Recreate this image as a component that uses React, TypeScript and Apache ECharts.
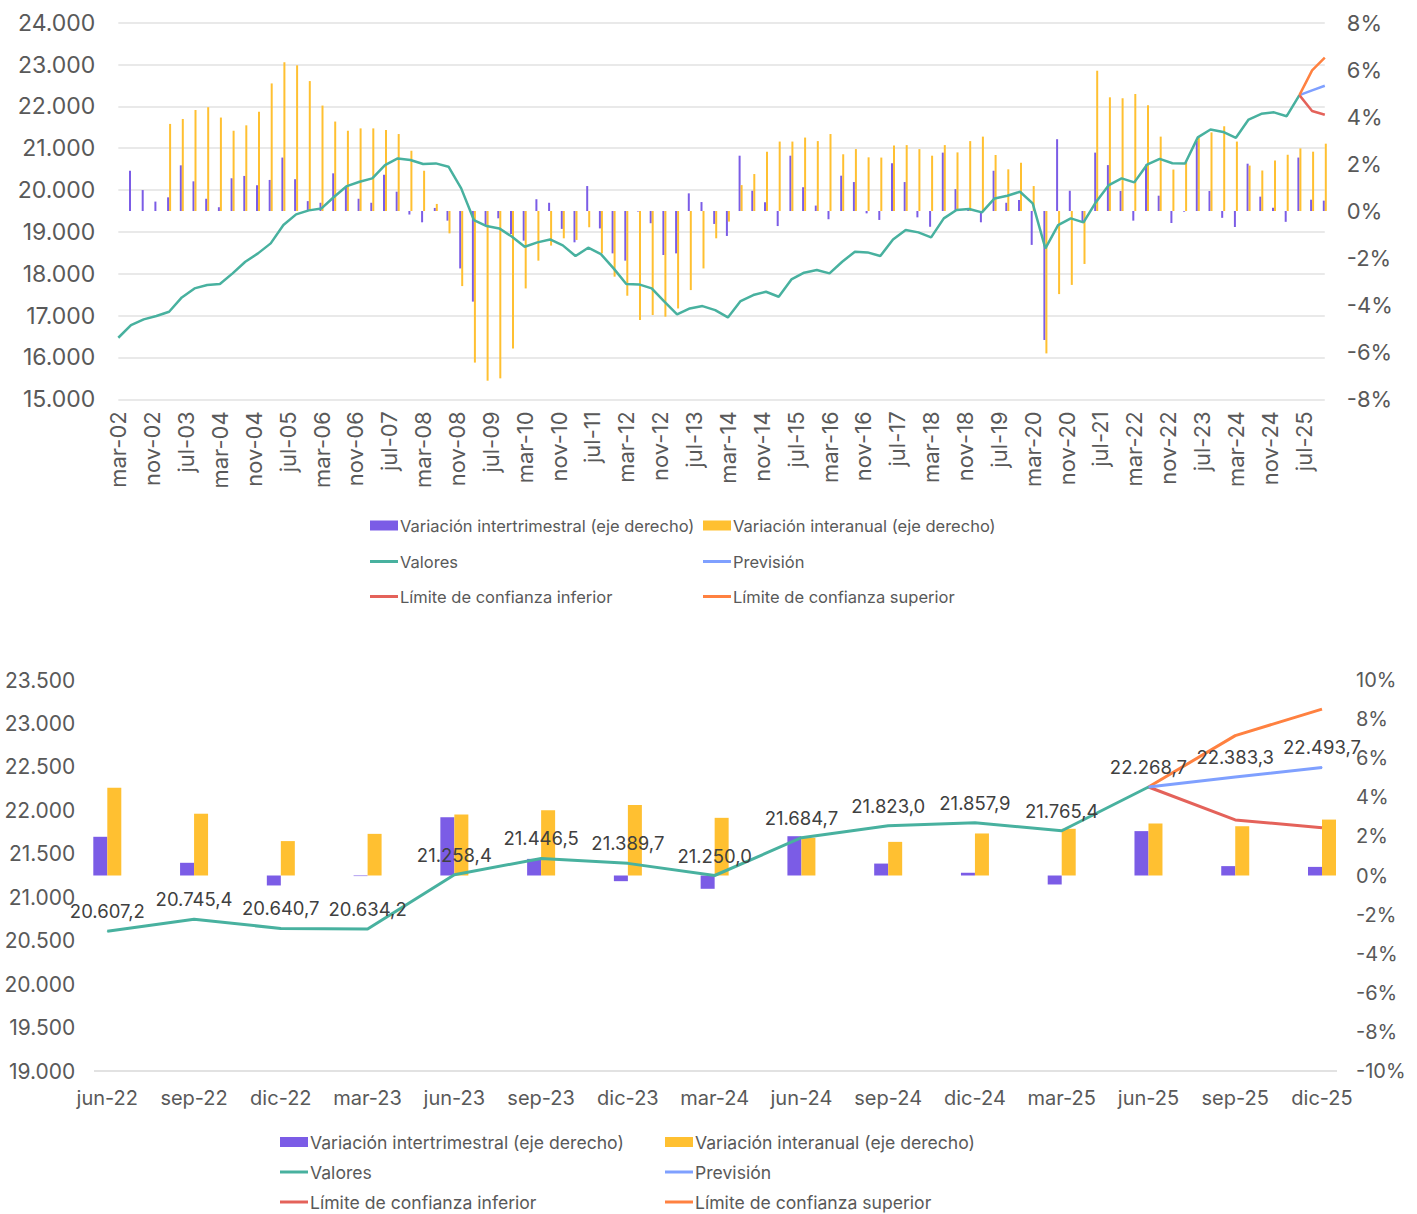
import { useEffect, useRef } from 'react';
import * as echarts from 'echarts';

// ---------- labels ----------
const MONTH_NAMES = ['ene', 'feb', 'mar', 'abr', 'may', 'jun', 'jul', 'ago', 'sep', 'oct', 'nov', 'dic'];
const START_YEAR = 2002;
const START_MONTH = 2; // mar
const N_MONTHS = 286; // mar-02 .. dic-25

// ---------- quarterly data (index 0 = mar-02, 95 = dic-25) ----------
const valores = [
  16471, 16774, 16910, 16990, 17093, 17435, 17650, 17730, 17754, 18009,
  18288, 18487, 18726, 19164, 19419, 19515, 19562, 19841, 20096, 20200,
  20279, 20598, 20757, 20718, 20622, 20638, 20558, 20040, 19284, 19140,
  19084, 18885, 18646, 18750, 18821, 18678, 18423, 18622, 18471, 18128,
  17754, 17746, 17650, 17332, 17029, 17172, 17228, 17132, 16957, 17348,
  17491, 17571, 17451, 17865, 18025, 18088, 18009, 18288, 18527, 18511,
  18423, 18821, 19045, 18989, 18869, 19323, 19523, 19547, 19467, 19801,
  19865, 19961, 19682, 18606, 19164, 19323, 19228, 19722, 20120, 20279,
  20184, 20607.2, 20745.4, 20640.7, 20634.2, 21258.4, 21446.5, 21389.7, 21250.0, 21684.7,
  21823.0, 21857.9, 21765.4, 22268.7,
];

const interTrim = [
  null, 1.71, 0.89, 0.40, 0.58, 1.94, 1.26, 0.52, 0.16, 1.39,
  1.49, 1.09, 1.32, 2.27, 1.35, 0.42, 0.35, 1.60, 1.03, 0.52,
  0.35, 1.54, 0.82, -0.15, -0.48, 0.13, -0.41, -2.44, -3.85, -0.6,
  -0.31, -0.98, -1.26, 0.50, 0.35, -0.76, -1.33, 1.06, -0.74, -1.80,
  -2.11, -0.02, -0.52, -1.87, -1.80, 0.75, 0.38, -0.55, -1.06, 2.35,
  0.86, 0.37, -0.64, 2.35, 1.01, 0.23, -0.35, 1.50, 1.23, -0.10,
  -0.38, 2.03, 1.23, -0.27, -0.67, 2.48, 0.93, 0.05, -0.48, 1.71,
  0.35, 0.47, -1.44, -5.48, 3.05, 0.86, -0.45, 2.48, 1.95, 0.85,
  -0.41, 1.98, 0.65, -0.51, -0.03, 2.98, 0.85, -0.29, -0.68, 2.01,
  0.61, 0.14, -0.46, 2.27, 0.48, 0.44,
];

const interAnual = [
  null, null, null, null, 3.70, 3.91, 4.29, 4.41, 3.97, 3.41,
  3.64, 4.22, 5.42, 6.32, 6.19, 5.52, 4.48, 3.80, 3.41, 3.51,
  3.51, 3.44, 3.27, 2.56, 1.71, 0.30, -0.95, -3.19, -6.44, -7.21,
  -7.11, -5.84, -3.29, -2.11, -1.47, -1.16, -1.23, -0.69, -1.80, -2.79,
  -3.60, -4.63, -4.42, -4.49, -4.14, -3.36, -2.44, -1.16, -0.45, 1.10,
  1.57, 2.52, 2.95, 2.95, 3.12, 2.97, 3.27, 2.41, 2.63, 2.28,
  2.27, 2.78, 2.80, 2.63, 2.35, 2.80, 2.49, 2.97, 3.16, 2.38,
  1.77, 2.05, 1.06, -6.05, -3.53, -3.14, -2.25, 5.96, 4.83, 4.79,
  4.97, 4.49, 3.16, 1.76, 2.13, 3.12, 3.34, 3.60, 2.95, 1.93,
  1.72, 2.15, 2.39, 2.66, 2.52, 2.86,
];

// forecast, starting at jun-25 (quarter 93)
const FORECAST_START = 93;
const prevision = [22268.7, 22383.3, 22493.7];
const limiteInferior = [22268.7, 21890, 21800];
const limiteSuperior = [22268.7, 22860, 23165];

// detail chart: jun-22 (quarter 81) .. dic-25 (quarter 95)
const DETAIL_START = 81;
const N_QUARTERS = 96;

// ---------- names & styles ----------
const N_BAR1 = 'Variación intertrimestral (eje derecho)';
const N_BAR2 = 'Variación interanual (eje derecho)';
const N_VAL = 'Valores';
const N_PREV = 'Previsión';
const N_INF = 'Límite de confianza inferior';
const N_SUP = 'Límite de confianza superior';

const PURPLE = '#7B5CE6';
const YELLOW = '#FFC031';
const TEAL = '#48B19F';
const BLUE = '#7FA0FF';
const RED = '#E4625A';
const ORANGE = '#FF8140';
const TXT = '#595959';
const FONT = 'Inter, Roboto, sans-serif';

const monthCats: string[] = [];
for (let k = 0; k < N_MONTHS; k++) {
  const m = (START_MONTH + k) % 12;
  const y = START_YEAR + Math.floor((START_MONTH + k) / 12);
  monthCats.push(MONTH_NAMES[m] + '-' + String(y % 100).padStart(2, '0'));
}

function toMonthly(arr: (number | null)[], startQ: number) {
  const out: (number | null)[] = new Array(N_MONTHS).fill(null);
  arr.forEach((v, i) => {
    out[(startQ + i) * 3] = v;
  });
  return out;
}

function toDetail(arr: (number | null)[], startQ: number) {
  const out: (number | null)[] = [];
  for (let q = DETAIL_START; q < N_QUARTERS; q++) {
    const i = q - startQ;
    out.push(i >= 0 && i < arr.length ? arr[i] : null);
  }
  return out;
}

const detailCats: string[] = [];
for (let q = DETAIL_START; q < N_QUARTERS; q++) detailCats.push(monthCats[q * 3]);

function thousands(v: number) {
  return String(Math.round(v)).replace(/\B(?=(\d{3})+(?!\d))/g, '.');
}
function fmt1(v: number) {
  const [i, d] = v.toFixed(1).split('.');
  return i.replace(/\B(?=(\d{3})+(?!\d))/g, '.') + ',' + d;
}

function legendItem(name: string, left: number, centerY: number, isBar: boolean, fontSize: number) {
  return {
    data: [name],
    left,
    top: centerY - 9,
    padding: 0,
    itemWidth: 28,
    itemHeight: isBar ? 10 : 3,
    itemGap: 0,
    selectedMode: false,
    icon: 'rect',
    textStyle: { fontSize, color: TXT, fontFamily: FONT, padding: [0, 0, 0, -3] },
  };
}

export default function App() {
  const ref = useRef<HTMLDivElement>(null);

  useEffect(() => {
    if (!ref.current) return;
    const chart = echarts.init(ref.current, undefined, { renderer: 'svg' });

    const valoresDetail = toDetail(valores, 0);
    const prevDetail = toDetail(prevision, FORECAST_START);
    const labelStyle = {
      show: true, position: 'top', distance: 10, fontSize: 18.5, color: '#404040', fontFamily: FONT,
    };

    const option: any = {
      animation: false,
      backgroundColor: '#ffffff',
      textStyle: { fontFamily: FONT },
      grid: [
        { left: 118.3, right: 1417 - 1324.8, top: 22.7, height: 376.6, containLabel: false },
        { left: 107.3, right: 1417 - 1322, top: 680, height: 391, containLabel: false },
      ],
      xAxis: [
        {
          type: 'category',
          gridIndex: 0,
          data: monthCats,
          boundaryGap: false,
          axisLine: { show: false },
          axisTick: { show: false },
          splitLine: { show: false },
          axisLabel: { interval: 7, rotate: 90, fontSize: 22, color: TXT, margin: 12, fontFamily: FONT },
        },
        {
          type: 'category',
          gridIndex: 1,
          data: detailCats,
          boundaryGap: false,
          axisLine: { show: false },
          axisTick: { show: false },
          splitLine: { show: false },
          axisLabel: { interval: 0, fontSize: 20, color: TXT, margin: 17, fontFamily: FONT },
        },
      ],
      yAxis: [
        {
          type: 'value',
          gridIndex: 0,
          position: 'left',
          min: 15000,
          max: 24000,
          interval: 1000,
          axisLine: { show: false },
          axisTick: { show: false },
          splitLine: { show: true, lineStyle: { color: '#e2e2e2', width: 1.5 } },
          axisLabel: { fontSize: 23, color: TXT, margin: 23, formatter: (v: number) => thousands(v), fontFamily: FONT },
        },
        {
          type: 'value',
          gridIndex: 0,
          position: 'right',
          min: -8,
          max: 8,
          interval: 2,
          axisLine: { show: false },
          axisTick: { show: false },
          splitLine: { show: false },
          axisLabel: { fontSize: 22, color: TXT, margin: 22, formatter: (v: number) => v + '%', fontFamily: FONT },
        },
        {
          type: 'value',
          gridIndex: 1,
          position: 'left',
          min: 19000,
          max: 23500,
          interval: 500,
          axisLine: { show: false },
          axisTick: { show: false },
          splitLine: { show: false },
          axisLabel: { fontSize: 21, color: TXT, margin: 32, formatter: (v: number) => thousands(v), fontFamily: FONT },
        },
        {
          type: 'value',
          gridIndex: 1,
          position: 'right',
          min: -10,
          max: 10,
          interval: 2,
          axisLine: { show: false },
          axisTick: { show: false },
          splitLine: { show: false },
          axisLabel: { fontSize: 20, color: TXT, margin: 34, formatter: (v: number) => v + '%', fontFamily: FONT },
        },
      ],
      legend: [
        legendItem(N_BAR1, 370, 526, true, 16.5),
        legendItem(N_BAR2, 703, 526, true, 16.5),
        legendItem(N_VAL, 370, 562, false, 16.5),
        legendItem(N_PREV, 703, 562, false, 16.5),
        legendItem(N_INF, 370, 597, false, 16.5),
        legendItem(N_SUP, 703, 597, false, 16.5),
        legendItem(N_BAR1, 280, 1142, true, 17.6),
        legendItem(N_BAR2, 665, 1142, true, 17.6),
        legendItem(N_VAL, 280, 1172, false, 17.6),
        legendItem(N_PREV, 665, 1172, false, 17.6),
        legendItem(N_INF, 280, 1202, false, 17.6),
        legendItem(N_SUP, 665, 1202, false, 17.6),
      ],
      graphic: [
        {
          type: 'line',
          shape: { x1: 94, y1: 1071, x2: 1337, y2: 1071 },
          style: { stroke: '#d9d9d9', lineWidth: 1.5 },
          silent: true,
        },
      ],
      series: [
        // ----- top chart -----
        {
          type: 'bar', name: N_BAR1, xAxisIndex: 0, yAxisIndex: 1,
          data: toMonthly(interTrim, 0), barWidth: 2, barGap: '0%',
          itemStyle: { color: PURPLE },
        },
        {
          type: 'bar', name: N_BAR2, xAxisIndex: 0, yAxisIndex: 1,
          data: toMonthly(interAnual, 0), barWidth: 2, barGap: '0%',
          itemStyle: { color: YELLOW },
        },
        {
          type: 'line', name: N_VAL, xAxisIndex: 0, yAxisIndex: 0,
          data: toMonthly(valores, 0), connectNulls: true, symbol: 'none',
          lineStyle: { color: TEAL, width: 2.5 }, itemStyle: { color: TEAL },
        },
        {
          type: 'line', name: N_PREV, xAxisIndex: 0, yAxisIndex: 0,
          data: toMonthly(prevision, FORECAST_START), connectNulls: true, symbol: 'none',
          lineStyle: { color: BLUE, width: 2.5 }, itemStyle: { color: BLUE },
        },
        {
          type: 'line', name: N_INF, xAxisIndex: 0, yAxisIndex: 0,
          data: toMonthly(limiteInferior, FORECAST_START), connectNulls: true, symbol: 'none',
          lineStyle: { color: RED, width: 2.5 }, itemStyle: { color: RED },
        },
        {
          type: 'line', name: N_SUP, xAxisIndex: 0, yAxisIndex: 0,
          data: toMonthly(limiteSuperior, FORECAST_START), connectNulls: true, symbol: 'none',
          lineStyle: { color: ORANGE, width: 2.5 }, itemStyle: { color: ORANGE },
        },
        // ----- detail chart -----
        {
          type: 'bar', name: N_BAR1, xAxisIndex: 1, yAxisIndex: 3,
          data: toDetail(interTrim, 0), barWidth: 14, barGap: '0%',
          itemStyle: { color: PURPLE },
        },
        {
          type: 'bar', name: N_BAR2, xAxisIndex: 1, yAxisIndex: 3,
          data: toDetail(interAnual, 0), barWidth: 14, barGap: '0%',
          itemStyle: { color: YELLOW },
        },
        {
          type: 'line', name: N_INF, xAxisIndex: 1, yAxisIndex: 2,
          data: toDetail(limiteInferior, FORECAST_START), symbol: 'none',
          lineStyle: { color: RED, width: 3 }, itemStyle: { color: RED },
        },
        {
          type: 'line', name: N_SUP, xAxisIndex: 1, yAxisIndex: 2,
          data: toDetail(limiteSuperior, FORECAST_START), symbol: 'none',
          lineStyle: { color: ORANGE, width: 3 }, itemStyle: { color: ORANGE },
        },
        {
          type: 'line', name: N_PREV, xAxisIndex: 1, yAxisIndex: 2,
          data: prevDetail, symbol: 'circle', symbolSize: 1, showSymbol: true,
          lineStyle: { color: BLUE, width: 3 }, itemStyle: { color: BLUE },
          label: {
            ...labelStyle,
            formatter: (p: any) =>
              p.value == null || p.dataIndex < FORECAST_START - DETAIL_START + 1 ? '' : fmt1(p.value),
          },
        },
        {
          type: 'line', name: N_VAL, xAxisIndex: 1, yAxisIndex: 2,
          data: valoresDetail, symbol: 'circle', symbolSize: 1, showSymbol: true,
          lineStyle: { color: TEAL, width: 3 }, itemStyle: { color: TEAL },
          label: {
            ...labelStyle,
            formatter: (p: any) => (p.value == null ? '' : fmt1(p.value)),
          },
        },
      ],
    };

    chart.setOption(option);
    return () => chart.dispose();
  }, []);

  return (
    <div
      ref={ref}
      style={{ position: 'absolute', left: 0, top: 0, width: 1417, height: 1214, background: '#fff' }}
    />
  );
}
